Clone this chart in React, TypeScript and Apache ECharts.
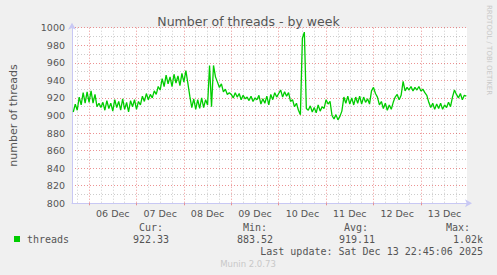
import React, { useEffect, useRef } from "react";
import * as echarts from "echarts";

// hourly samples, first sample at hour -8 relative to 06 Dec 00:00
const startHour = -8;
const threads = [
  904, 913, 906, 921, 912, 926, 914, 927,
  915, 928, 914, 924, 910, 914, 909, 915,
  906, 917, 908, 914, 905, 918, 909, 916,
  906, 919, 907, 915, 904, 917, 910, 918,
  907, 916, 912, 922, 916, 925, 918, 924,
  920, 928, 924, 933, 929, 942, 933, 946,
  936, 944, 933, 947, 937, 945, 934, 948,
  938, 951, 937, 922, 909, 919, 907, 918,
  908, 920, 909, 918, 912, 957, 910, 957,
  944, 938, 932, 936, 927, 930, 924, 926,
  924, 920, 926, 921, 925, 918, 923, 919,
  921, 917, 922, 916, 920, 918, 923, 913,
  919, 914, 922, 912, 924, 918, 926, 921,
  925, 929, 921, 927, 922, 926, 916, 918,
  910, 914, 906, 901, 988, 995, 908, 906,
  911, 904, 909, 903, 912, 905, 910, 908,
  918, 913, 916, 900, 896, 901, 895, 899,
  905, 921, 914, 922, 913, 920, 912, 921,
  914, 922, 913, 921, 915, 919, 913, 928,
  932, 925, 921, 912, 916, 908, 914, 906,
  912, 907, 915, 921, 924, 918, 923, 939,
  928, 932, 929, 933, 928, 932, 929, 933,
  928, 930, 926, 923, 915, 909, 914, 907,
  913, 908, 914, 907, 912, 909, 915, 910,
  921, 929, 924, 920, 925, 918, 923, 922,
];
const dayLabels = ["06 Dec", "07 Dec", "08 Dec", "09 Dec", "10 Dec", "11 Dec", "12 Dec", "13 Dec"];
const yTicks = [800, 820, 840, 860, 880, 900, 920, 940, 960, 980, 1000];
const statHeaders = ["Cur:", "Min:", "Avg:", "Max:"];
const statValues = ["922.33", "883.52", "919.11", "1.02k"];
const seriesName = "threads";
const lastUpdate = "Last update: Sat Dec 13 22:45:06 2025";
const titleText = "Number of threads - by week";
const yName = "number of threads";
const xMin = -8.65;
const xMax = 191.35;

const GREEN = "#00cc00";
const TEXT = "#555555";
const MAJOR = "rgba(230,110,110,0.75)";
const MINOR = "rgba(0,0,0,0.2)";
const AXIS = "#c8c8f4";

export default function App() {
  const ref = useRef<HTMLDivElement>(null);
  useEffect(() => {
    if (!ref.current) return;
    const chart = echarts.init(ref.current, undefined, { renderer: "svg" });
    const data = threads.map((v, i) => [startHour + i, v]);
    const dayStarts = dayLabels.map((_, i) => 24 * i);
    const labelVals = dayLabels.map((_, i) => 12 + 24 * i);
    const quarterVals: number[] = [];
    for (let h = -6; h <= 190; h += 6) if (h % 24 !== 0) quarterVals.push(h);
    const mono = "DejaVu Sans Mono";
    const sans = "DejaVu Sans";
    const graphics: any[] = [
      { type: "rect", shape: { x: 14, y: 236, width: 6, height: 6 }, style: { fill: GREEN } },
      { type: "text", x: 27, y: 239.5, style: { text: seriesName, font: `10px '${mono}'`, fill: TEXT, verticalAlign: "middle" } },
      { type: "text", x: 483, y: 251.7, style: { text: lastUpdate, font: `10px '${mono}'`, fill: TEXT, align: "right", verticalAlign: "middle" } },
      { type: "text", x: 248, y: 264, style: { text: "Munin 2.0.73", font: `8.5px '${sans}'`, fill: "#c8c8c8", align: "center", verticalAlign: "middle" } },
      { type: "text", x: 489, y: 5, rotation: -Math.PI / 2, style: { text: "RRDTOOL / TOBI OETIKER", font: `7px '${sans}'`, fill: "#c8c8c8", align: "left", verticalAlign: "middle" } },
    ];
    const headRight = [163, 267, 368, 470];
    const valRight = [169, 273, 375, 483];
    statHeaders.forEach((t, i) => {
      graphics.push({ type: "text", x: headRight[i], y: 227.7, style: { text: t, font: `10px '${mono}'`, fill: TEXT, align: "right", verticalAlign: "middle" } });
      graphics.push({ type: "text", x: valRight[i], y: 239.5, style: { text: statValues[i], font: `10px '${mono}'`, fill: TEXT, align: "right", verticalAlign: "middle" } });
    });
    chart.setOption({
      animation: false,
      backgroundColor: "#f0f0f0",
      title: {
        text: titleText,
        left: "center",
        top: 10,
        textStyle: { fontFamily: sans, fontSize: 12.5, fontWeight: "normal", color: TEXT },
      },
      grid: { left: 67, top: 27.7, width: 400, height: 175.6, show: true, backgroundColor: "#ffffff", borderWidth: 0 },
      xAxis: [
        {
          type: "value",
          min: xMin,
          max: xMax,
          z: 3,
          axisLine: { show: true, onZero: false, lineStyle: { color: AXIS }, symbol: ["none", "arrow"], symbolSize: [6, 7], symbolOffset: [0, 5] },
          axisTick: { show: true, customValues: dayStarts, length: 2, lineStyle: { color: MAJOR } },
          splitLine: { show: true, lineStyle: { color: MAJOR, type: [1, 2] } },
          axisLabel: {
            customValues: labelVals,
            formatter: (v: number) => dayLabels[Math.round((v - 12) / 24)] ?? "",
            color: TEXT,
            fontFamily: sans,
            fontSize: 9.5,
            margin: 5,
          },
        },
        {
          type: "value",
          min: xMin,
          max: xMax,
          position: "bottom",
          axisLine: { show: false, onZero: false },
          axisTick: { show: false, customValues: quarterVals },
          axisLabel: { show: false },
          splitLine: { show: true, lineStyle: { color: MINOR, type: [1, 2] } },
        },
      ],
      yAxis: {
        type: "value",
        min: yTicks[0],
        max: yTicks[yTicks.length - 1],
        interval: 20,
        name: yName,
        nameLocation: "middle",
        nameGap: 53,
        nameRotate: 90,
        nameTextStyle: { color: TEXT, fontFamily: sans, fontSize: 11 },
        axisLine: { show: true, onZero: false, lineStyle: { color: AXIS }, symbol: ["none", "arrow"], symbolSize: [6, 7], symbolOffset: [0, 5] },
        axisTick: { show: false },
        axisLabel: { color: TEXT, fontFamily: sans, fontSize: 9.5, margin: 7, formatter: (v: number) => String(v) },
        splitLine: { show: true, lineStyle: { color: MAJOR, type: [1, 2] } },
        minorTick: { show: false, splitNumber: 2 },
        minorSplitLine: { show: true, lineStyle: { color: MINOR, type: [1, 2] } },
      },
      series: [
        {
          type: "line",
          name: seriesName,
          data,
          z: 3,
          symbol: "none",
          lineStyle: { color: GREEN, width: 1.3 },
          itemStyle: { color: GREEN },
        },
      ],
      graphic: graphics,
    });
    return () => chart.dispose();
  }, []);
  return (
    <div
      ref={ref}
      style={{ position: "fixed", left: 0, top: 0, width: 497, height: 275 }}
    />
  );
}
